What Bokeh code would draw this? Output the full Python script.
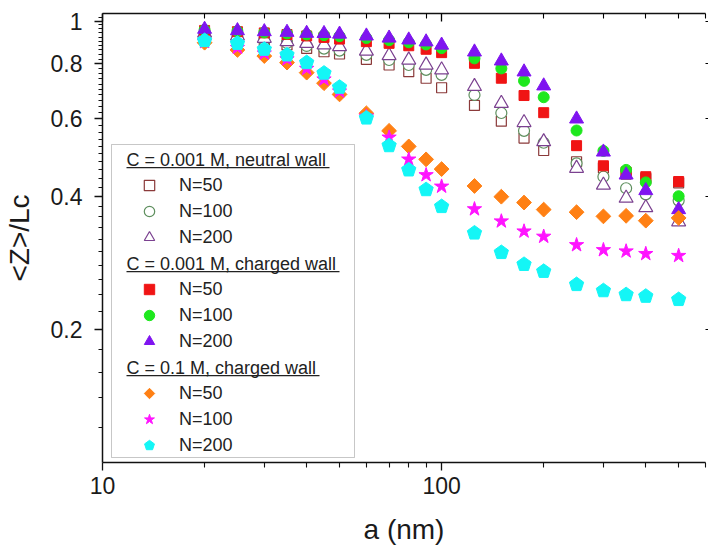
import numpy as np
from bokeh.plotting import figure
from bokeh.models import (Range1d, LogAxis, FixedTicker, Legend, LegendItem, Label,
                          BoxAnnotation, CustomJSTickFormatter)
from bokeh.embed import file_html
from bokeh.resources import INLINE

# ---------------- data ----------------
a_nm = [20, 25, 30, 35, 40, 45, 50, 60, 70, 80, 90, 100, 125, 150, 175, 200, 250, 300, 350, 400, 500]

# C = 0.001 M, neutral wall
neutral_n50 = [0.930, 0.913, 0.898, 0.883, 0.867, 0.852, 0.842, 0.819, 0.795, 0.768, 0.742,
               0.706, 0.644, 0.593, 0.543, 0.509, 0.480, 0.465, 0.450, 0.440, 0.430]
neutral_n100 = [0.935, 0.918, 0.905, 0.892, 0.878, 0.866, 0.857, 0.838, 0.816, 0.795, 0.775,
                0.755, 0.680, 0.619, 0.564, 0.530, 0.476, 0.444, 0.418, 0.405, 0.392]
neutral_n200 = [0.939, 0.925, 0.914, 0.898, 0.890, 0.883, 0.875, 0.855, 0.835, 0.816, 0.795,
                0.775, 0.711, 0.651, 0.589, 0.533, 0.464, 0.425, 0.397, 0.378, 0.351]

# C = 0.001 M, charged wall
charged_n50 = [0.952, 0.946, 0.940, 0.932, 0.925, 0.918, 0.910, 0.898, 0.890, 0.879, 0.863,
               0.848, 0.802, 0.742, 0.678, 0.620, 0.522, 0.470, 0.455, 0.444, 0.433]
charged_n100 = [0.955, 0.948, 0.942, 0.937, 0.932, 0.929, 0.924, 0.915, 0.905, 0.895, 0.885,
                0.868, 0.823, 0.781, 0.732, 0.672, 0.565, 0.508, 0.460, 0.431, 0.401]
charged_n200 = [0.958, 0.951, 0.946, 0.943, 0.938, 0.937, 0.934, 0.925, 0.915, 0.906, 0.897,
                0.882, 0.851, 0.812, 0.767, 0.713, 0.600, 0.505, 0.448, 0.413, 0.374]

# C = 0.1 M, charged wall
salt_n50 = [0.893, 0.860, 0.833, 0.805, 0.764, 0.723, 0.682, 0.618, 0.564, 0.520, 0.486,
            0.462, 0.423, 0.400, 0.388, 0.374, 0.369, 0.361, 0.362, 0.353, 0.358]
salt_n100 = [0.897, 0.870, 0.845, 0.820, 0.780, 0.738, 0.693, 0.608, 0.545, 0.486, 0.448,
             0.422, 0.375, 0.352, 0.334, 0.325, 0.311, 0.303, 0.301, 0.297, 0.294]
salt_n200 = [0.903, 0.890, 0.863, 0.838, 0.805, 0.762, 0.708, 0.603, 0.522, 0.460, 0.415,
             0.380, 0.331, 0.299, 0.281, 0.271, 0.253, 0.245, 0.240, 0.238, 0.234]

headings = ["C = 0.001 M, neutral wall", "C = 0.001 M, charged wall", "C = 0.1 M, charged wall"]
series_labels = ["N=50", "N=100", "N=200"]
x_title = "a (nm)"
y_title = "<Z>/Lc"

x_major = [10, 100]
x_minor = [20, 30, 40, 50, 60, 70, 80, 90, 200, 300, 400, 500, 600]
y_major = [0.2, 0.4, 0.6, 0.8, 1.0]
y_minor = [round(0.1 + 0.02 * k, 2) for k in range(1, 47)]
y_minor = [v for v in y_minor if v not in y_major]

# ---------------- layout ----------------
W, H = 708, 547
FL, FR, FT, FB = 101, 705, 13, 463
FONT = "Liberation Sans"

p = figure(width=W, height=H, x_axis_type="log", y_axis_type="log",
           x_range=Range1d(10, 600), y_range=Range1d(0.1, 1.04),
           output_backend="svg", toolbar_location=None,
           min_border_left=FL, min_border_right=W - FR,
           min_border_top=FT, min_border_bottom=H - FB)
p.outline_line_color = None
p.xgrid.visible = False
p.ygrid.visible = False
p.background_fill_color = "white"
p.border_fill_color = "white"

fmt = CustomJSTickFormatter(code="return tick.toString();")
blank = CustomJSTickFormatter(code="return '';")

xa = p.xaxis[0]
xa.ticker = FixedTicker(ticks=x_major, minor_ticks=x_minor)
xa.formatter = fmt
xa.axis_label = x_title
ya = p.yaxis[0]
ya.ticker = FixedTicker(ticks=y_major, minor_ticks=y_minor)
ya.formatter = fmt
ya.axis_label = y_title

for ax in (xa, ya):
    ax.axis_line_width = 1.5
    ax.axis_line_color = "#111111"
    ax.major_tick_line_color = "#111111"
    ax.minor_tick_line_color = "#111111"
    ax.major_tick_line_width = 1.3
    ax.minor_tick_line_width = 1.1
    ax.major_tick_in = 0
    ax.major_tick_out = 8
    ax.minor_tick_in = 0
    ax.minor_tick_out = 5
    ax.major_label_text_font = FONT
    ax.major_label_text_font_size = "23px"
    ax.major_label_text_color = "#1a1a1a"
    ax.axis_label_text_font = FONT
    ax.axis_label_text_font_size = "28px"
    ax.axis_label_text_font_style = "normal"
    ax.axis_label_text_color = "#1a1a1a"
ya.minor_tick_out = 4
xa.major_label_standoff = 6
xa.axis_label_standoff = 17
ya.major_label_standoff = 12
ya.axis_label_standoff = 13

top = LogAxis(ticker=FixedTicker(ticks=x_major, minor_ticks=x_minor), formatter=blank,
              axis_line_width=1.5, axis_line_color="#111111",
              major_tick_in=8, major_tick_out=0, minor_tick_in=5, minor_tick_out=0,
              major_tick_line_width=1.3, minor_tick_line_width=1.1,
              major_label_text_font_size="8px", major_label_standoff=0)
p.add_layout(top, "above")
right = LogAxis(ticker=FixedTicker(ticks=y_major, minor_ticks=[]), formatter=blank,
                axis_line_color=None, major_tick_in=0, major_tick_out=3,
                minor_tick_in=0, minor_tick_out=0, major_tick_line_width=1.2,
                major_label_text_font_size="8px", major_label_standoff=0)
p.add_layout(right, "right")

# ---------------- glyphs ----------------
r_n50 = p.scatter(a_nm, neutral_n50, marker="square", size=10, line_color="#8B3A3A",
                  fill_color="white", line_width=1.2)
r_n100 = p.scatter(a_nm, neutral_n100, marker="circle", size=11, line_color="#5E8F5E",
                   fill_color="white", line_width=1.2)
r_n200 = p.scatter(a_nm, neutral_n200, marker="triangle", size=14, line_color="#7B4190",
                   fill_color="white", line_width=1.2)
r_c50 = p.scatter(a_nm, charged_n50, marker="square", size=10, color="#F01414")
r_c100 = p.scatter(a_nm, charged_n100, marker="circle", size=11, color="#1EE81E")
r_c200 = p.scatter(a_nm, charged_n200, marker="triangle", size=14, color="#7F14F0")
r_s50 = p.ngon(x=a_nm, y=salt_n50, radius=7.4, radius_units="screen", n=4,
               angle=0, color="#FF8014")
r_s100 = p.scatter(a_nm, salt_n100, marker="star", size=15, color="#FF14FF")
r_s200 = p.ngon(x=a_nm, y=salt_n200, radius=7.5, radius_units="screen", n=5,
                angle=0, color="#14F6F6")

dummies = [p.scatter(x=[], y=[], marker="circle", size=0, fill_alpha=0, line_alpha=0)
           for _ in range(3)]

groups = [[r_n50, r_n100, r_n200], [r_c50, r_c100, r_c200], [r_s50, r_s100, r_s200]]
items = []
for g, rs in enumerate(groups):
    items.append(LegendItem(label=" ", renderers=[dummies[g]]))
    for lab, r in zip(series_labels, rs):
        items.append(LegendItem(label=lab, renderers=[r]))

ROW = 26
first_row_canvas = 160
rows = len(items)
legend_bottom_canvas = first_row_canvas - ROW / 2 + rows * ROW
legend = Legend(items=items, location=(34, FB - legend_bottom_canvas), padding=0, margin=0,
                spacing=0, glyph_width=26, glyph_height=ROW, label_height=ROW,
                label_standoff=17, border_line_color=None, background_fill_alpha=0,
                label_text_font=FONT, label_text_font_size="18px", label_text_color="#222222")
p.add_layout(legend)

box = BoxAnnotation(left=110 - FL, right=353 - FL, top=FB - 145, bottom=FB - 458,
                    left_units="screen", right_units="screen", top_units="screen",
                    bottom_units="screen", fill_color=None, line_color="#444444",
                    line_width=1)
p.add_layout(box)

underline_w = [203, 213, 193]
for g, text in enumerate(headings):
    row_c = first_row_canvas + 4 * g * ROW
    p.add_layout(Label(x=125 - FL, y=FB - row_c, x_units="screen", y_units="screen",
                       text=text, text_font=FONT, text_font_size="18px",
                       text_baseline="middle", text_color="#222222"))
    p.add_layout(BoxAnnotation(left=125 - FL, right=125 - FL + underline_w[g],
                               top=FB - (row_c + 7.5), bottom=FB - (row_c + 8.7),
                               left_units="screen", right_units="screen",
                               top_units="screen", bottom_units="screen",
                               fill_color="#222222", fill_alpha=1, line_color=None))

open("out.html", "w").write(file_html(p, INLINE))
